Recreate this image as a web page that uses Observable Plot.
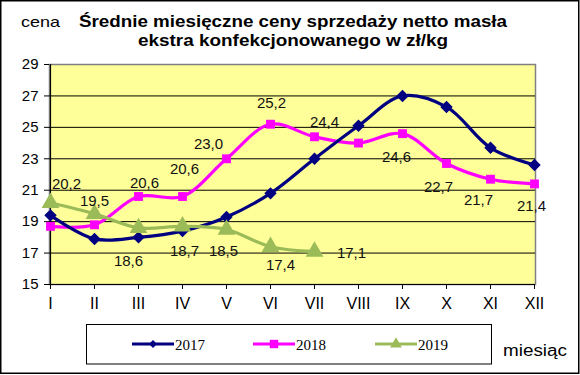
<!DOCTYPE html>
<html>
<head>
<meta charset="utf-8">
<script src="https://cdn.jsdelivr.net/npm/d3@7"></script>
<script src="https://cdn.jsdelivr.net/npm/@observablehq/plot@0.6"></script>
<style>
  html, body { margin: 0; padding: 0; background: #fff; }
  svg { display: block; }
</style>
</head>
<body>
<div id="chart"></div>
<script>
const months = ["I","II","III","IV","V","VI","VII","VIII","IX","X","XI","XII"];
const years = ["2017","2018","2019"];
const v2017 = [19.4, 17.9, 18.0, 18.4, 19.3, 20.8, 23.0, 25.1, 27.0, 26.3, 23.7, 22.6];
const v2018 = [18.7, 18.8, 20.6, 20.6, 23.0, 25.2, 24.4, 24.0, 24.6, 22.7, 21.7, 21.4];
const v2019 = [20.2, 19.5, 18.6, 18.7, 18.5, 17.4, 17.1];
const yTicks = [15, 17, 19, 21, 23, 25, 27, 29];
const titleLines = ["Średnie miesięczne ceny sprzedaży netto masła", "ekstra konfekcjonowanego w zł/kg"];
const yName = "cena";
const xName = "miesiąc";

const seriesValues = [v2017, v2018, v2019];
const colors = ["#000080", "#FF00FF", "#9BBB59"];
const symbols = ["diamond2", "square", "triangle"];
const dotR = [5.6, 5.0, 6.6];

// which points carry a value label, and where it sits relative to the point (pixels)
const labelPlacement = {
  "2018": {2: [6, -13], 3: [2, -27], 4: [-18, -15], 5: [1, -21], 6: [10, -15],
           8: [-6, 24], 9: [-8, 24], 10: [-12, 21], 11: [-3, 22]},
  "2019": {0: [16, -19], 1: [0, -13], 2: [-10, 33], 3: [2, 25], 4: [-3, 22], 5: [10, 18], 6: [37, 2]}
};

const rows = years.map((yr, k) => seriesValues[k].map((v, i) => ({year: yr, month: months[i], value: v, i})));
const fmt = v => v.toFixed(1).replace(".", ",");

const drawOrder = [1, 0, 2];
const marks = [
  Plot.frame({fill: "#FFFF99", stroke: "#808080", strokeWidth: 1.5}),
  Plot.ruleY(yTicks.filter(t => t > 15 && t < 29), {stroke: "#000", strokeWidth: 1}),
  Plot.ruleX([months[0]], {stroke: "#000", strokeWidth: 1.2}),
  Plot.ruleY([15], {stroke: "#000", strokeWidth: 1.2}),
  Plot.axisY({ticks: yTicks, tickSize: 5, tickPadding: 6, fontSize: 15, tickFormat: d => String(d), label: null}),
  Plot.axisX({tickSize: 5, tickPadding: 8, fontSize: 16, label: null})
];
for (const k of drawOrder) {
  marks.push(Plot.line(rows[k], {x: "month", y: "value", stroke: colors[k], strokeWidth: 3.2, curve: "catmull-rom"}));
}
for (const k of drawOrder) {
  marks.push(Plot.dot(rows[k], {x: "month", y: "value", symbol: symbols[k], fill: colors[k], stroke: "none", r: dotR[k]}));
}
for (const yr of Object.keys(labelPlacement)) {
  const k = years.indexOf(yr);
  for (const [idx, [dx, dy]] of Object.entries(labelPlacement[yr])) {
    marks.push(Plot.text([rows[k][+idx]], {x: "month", y: "value", text: d => fmt(d.value), dx, dy, fontSize: 15, fill: "#111"}));
  }
}

const svgEl = Plot.plot({
  width: 580, height: 375,
  marginLeft: 49, marginRight: 45, marginTop: 64, marginBottom: 91,
  style: {fontFamily: "'Liberation Sans', Arial, sans-serif", background: "#fff", color: "#000"},
  x: {type: "point", domain: months, padding: 0},
  y: {domain: [15, 29]},
  marks
});
document.getElementById("chart").appendChild(svgEl);

const svg = d3.select(svgEl);
// outer border
svg.append("rect").attr("x", 0.75).attr("y", 0.75).attr("width", 578).attr("height", 372.5)
  .attr("fill", "none").attr("stroke", "#000").attr("stroke-width", 1.5);

// title
const titleX = 293;
svg.append("text").attr("x", titleX).attr("y", 27).attr("text-anchor", "middle")
  .attr("font-family", "'Liberation Sans', Arial, sans-serif").attr("font-weight", "bold").attr("font-size", 16)
  .attr("textLength", 428).attr("lengthAdjust", "spacingAndGlyphs").text(titleLines[0]);
svg.append("text").attr("x", titleX).attr("y", 46).attr("text-anchor", "middle")
  .attr("font-family", "'Liberation Sans', Arial, sans-serif").attr("font-weight", "bold").attr("font-size", 16)
  .attr("textLength", 310).attr("lengthAdjust", "spacingAndGlyphs").text(titleLines[1]);
svg.append("text").attr("x", 21).attr("y", 27).attr("text-anchor", "start")
  .attr("font-family", "'Liberation Sans', Arial, sans-serif").attr("font-size", 15)
  .attr("textLength", 39).attr("lengthAdjust", "spacingAndGlyphs").text(yName);
svg.append("text").attr("x", 503).attr("y", 356).attr("text-anchor", "start")
  .attr("font-family", "'Liberation Sans', Arial, sans-serif").attr("font-size", 16)
  .attr("textLength", 64).attr("lengthAdjust", "spacingAndGlyphs").text(xName);

// legend
svg.append("rect").attr("x", 86.5).attr("y", 324.5).attr("width", 405).attr("height", 39.5)
  .attr("fill", "#fff").attr("stroke", "#000").attr("stroke-width", 1);
const legendX = [132, 253, 375];
const legendSym = [d3.symbolDiamond2, d3.symbolSquare, d3.symbolTriangle];
const legendSize = [40, 70, 60];
years.forEach((yr, k) => {
  const x0 = legendX[k], cy = 344;
  svg.append("line").attr("x1", x0).attr("x2", x0 + 42).attr("y1", cy).attr("y2", cy)
    .attr("stroke", colors[k]).attr("stroke-width", 3.2);
  svg.append("path").attr("d", d3.symbol(legendSym[k], legendSize[k])())
    .attr("transform", `translate(${x0 + 21},${cy})`).attr("fill", colors[k]);
  svg.append("text").attr("x", x0 + 43).attr("y", 349.5).attr("text-anchor", "start")
    .attr("font-family", "'Liberation Serif', 'Times New Roman', serif").attr("font-size", 15)
    .attr("fill", "#000").text(yr);
});
</script>
</body>
</html>
